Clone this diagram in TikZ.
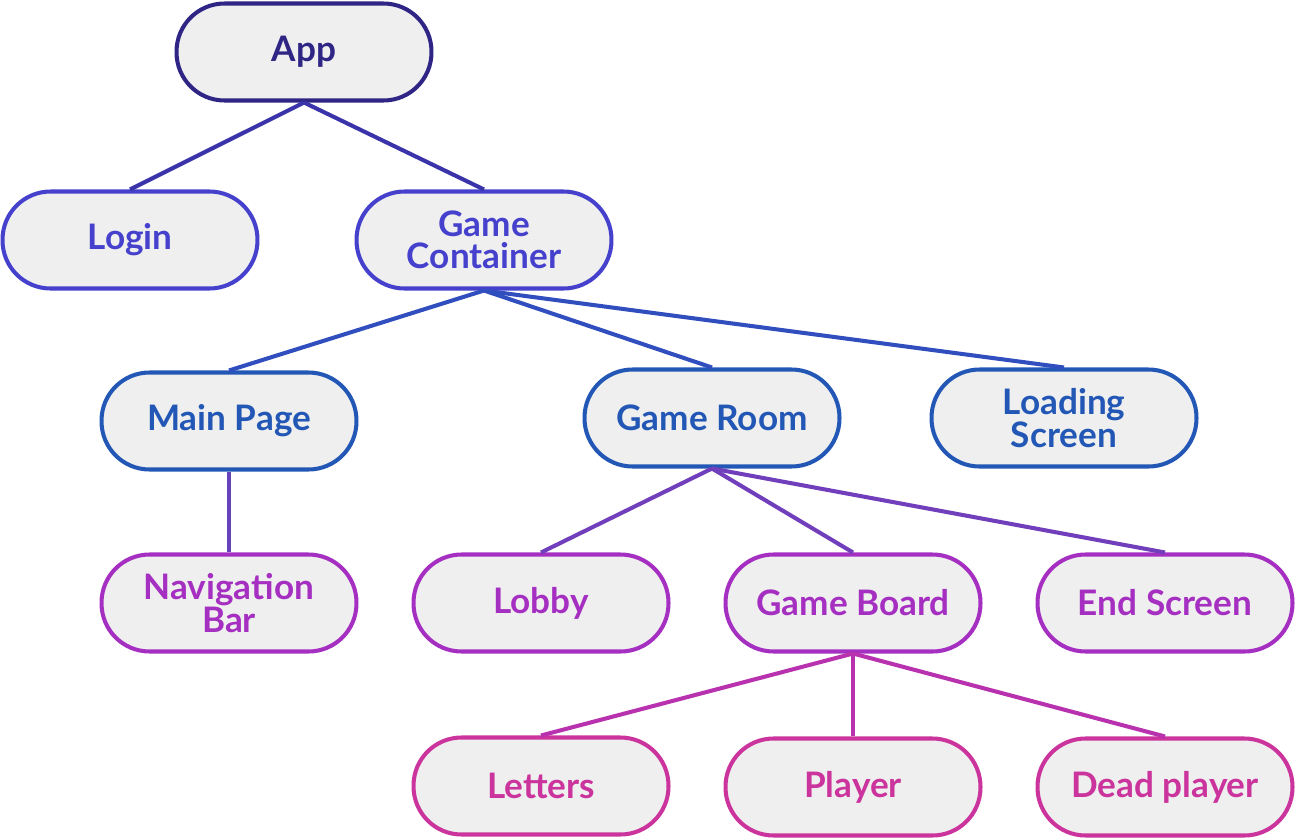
\documentclass[tikz,border=0pt]{standalone}
\usepackage{fontspec}
\setmainfont{Lato}
\usepackage{xcolor}
\usepackage{tikz}

\definecolor{rootcol}{HTML}{2F2585}
\definecolor{onecol}{HTML}{4541CD}
\definecolor{twocol}{HTML}{2357B5}
\definecolor{threecol}{HTML}{A52FC1}
\definecolor{fourcol}{HTML}{CB349C}
\definecolor{boxfill}{HTML}{EFEFEF}

\begin{document}
\begin{tikzpicture}[x=0.02cm,y=-0.02cm,
  comp/.style={draw=#1,text=#1,fill=boxfill,line width=2.3pt,rounded corners=0.96cm,
    minimum width=5.1cm,minimum height=1.94cm,align=center,inner sep=0pt,
    font=\bfseries\fontsize{20}{18.5}\selectfont},
  link/.style={line width=2.3pt,draw=#1}]

\useasboundingbox (0,0) rectangle (1296,839);

% top
\node[comp=rootcol] (app) at (304,52) {App};

% first level
\node[comp=onecol] (login) at (130,240) {Login};
\node[comp=onecol] (container) at (484,240) {Game\\Container};

% second level
\node[comp=twocol] (mainpage) at (229,421) {Main Page};
\node[comp=twocol] (gameroom) at (712,418) {Game Room};
\node[comp=twocol,minimum width=5.3cm] (loading) at (1064,418) {Loading\\Screen};

% third level
\node[comp=threecol] (navbar) at (229,603) {Navigation\\Bar};
\node[comp=threecol] (lobby) at (541,603) {Lobby};
\node[comp=threecol] (board) at (853,603) {Game Board};
\node[comp=threecol] (endscreen) at (1165,603) {End Screen};

% fourth level
\node[comp=fourcol] (letters) at (541,786) {Letters};
\node[comp=fourcol] (player) at (853,787) {Player};
\node[comp=fourcol] (dead) at (1165,787) {Dead player};

% links
\draw[link=rootcol!50!onecol] (app.south) -- (login.north);
\draw[link=rootcol!50!onecol] (app.south) -- (container.north);
\foreach \kid in {mainpage,gameroom,loading}
  \draw[link=onecol!40!twocol] (container.south) -- (\kid.north);
\draw[link=twocol!50!threecol] (mainpage.south) -- (navbar.north);
\foreach \kid in {lobby,board,endscreen}
  \draw[link=twocol!40!threecol] (gameroom.south) -- (\kid.north);
\foreach \kid in {letters,player,dead}
  \draw[link=threecol!50!fourcol] (board.south) -- (\kid.north);

\end{tikzpicture}
\end{document}
